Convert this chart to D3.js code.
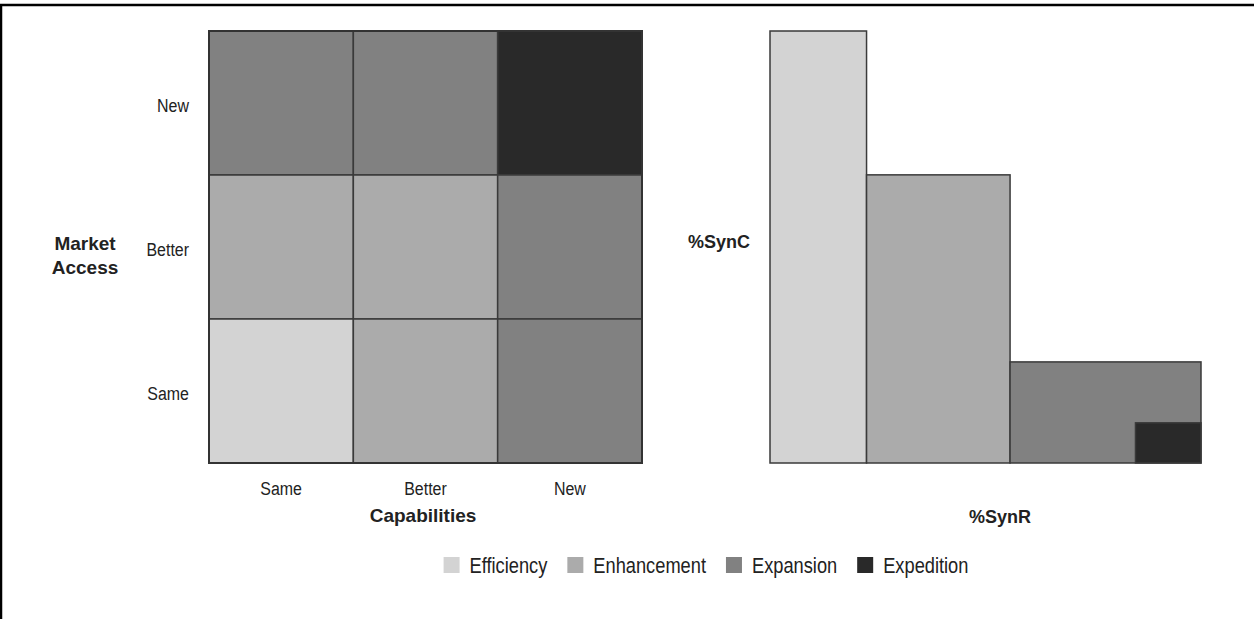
<!DOCTYPE html>
<html>
<head>
<meta charset="utf-8">
<script src="https://cdn.jsdelivr.net/npm/d3@7"></script>
<style>
  html, body { margin: 0; padding: 0; background: #fff; }
  svg { display: block; font-family: "Liberation Sans", Arial, sans-serif; }
</style>
</head>
<body>
<svg id="chart" width="1254" height="619"></svg>
<script>
// ---- data ----
const capabilities = ["Same", "Better", "New"];          // x categories of the matrix
const marketAccess = ["New", "Better", "Same"];          // y categories (top to bottom)
// matrix rows (market access New / Better / Same), columns (capabilities Same / Better / New)
const rowNew    = ["Expansion",   "Expansion",   "Expedition"];
const rowBetter = ["Enhancement", "Enhancement", "Expansion"];
const rowSame   = ["Efficiency",  "Enhancement", "Expansion"];

const types = ["Efficiency", "Enhancement", "Expansion", "Expedition"];
const typeColors = ["#d3d3d3", "#ababab", "#818181", "#292929"];

// variable-width bars: %SynR extent (x) and %SynC height (y)
const synRStart = [0, 22.4, 55.7, 84.8];
const synREnd   = [22.4, 55.7, 100, 100];
const synC      = [100, 66.7, 23.4, 9.3];

// ---- drawing ----
const svg = d3.select("#chart");
const color = d3.scaleOrdinal().domain(types).range(typeColors);
const textCol = "#222";
const strokeCol = "#3a3a3a";
const condense = 0.84;   // emulate a condensed face

// frame (top and left edges visible)
svg.append("path").attr("d", "M1,640 L1,5 L1260,5")
  .attr("fill", "none").attr("stroke", "#000").attr("stroke-width", 2.5);

// Matrix
const x = d3.scaleBand().domain(capabilities).range([209, 642]);
const y = d3.scaleBand().domain(marketAccess).range([31, 463]);
const rows = { "New": rowNew, "Better": rowBetter, "Same": rowSame };
const cells = [];
marketAccess.forEach(r => capabilities.forEach((c, i) => cells.push({ r, c, t: rows[r][i] })));

svg.append("g").selectAll("rect").data(cells).join("rect")
  .attr("x", d => x(d.c)).attr("y", d => y(d.r))
  .attr("width", x.bandwidth()).attr("height", y.bandwidth())
  .attr("fill", d => color(d.t))
  .attr("stroke", strokeCol).attr("stroke-width", 1.5);
svg.append("rect").attr("x", 209).attr("y", 31).attr("width", 433).attr("height", 432)
  .attr("fill", "none").attr("stroke", "#333").attr("stroke-width", 2);

// x tick labels
svg.append("g").selectAll("text").data(capabilities).join("text")
  .attr("transform", d => `translate(${x(d) + x.bandwidth() / 2},495) scale(${condense},1)`)
  .attr("text-anchor", "middle").attr("font-size", 19).attr("fill", textCol)
  .text(d => d);
// y tick labels
svg.append("g").selectAll("text").data(marketAccess).join("text")
  .attr("transform", d => `translate(189,${y(d) + y.bandwidth() / 2 + 9}) scale(${condense},1)`)
  .attr("text-anchor", "end").attr("font-size", 19).attr("fill", textCol)
  .text(d => d);

svg.append("text").attr("x", 423).attr("y", 522).attr("text-anchor", "middle")
  .attr("font-size", 19).attr("font-weight", "bold").attr("fill", textCol).text("Capabilities");
const ma = svg.append("text").attr("text-anchor", "middle")
  .attr("font-size", 19).attr("font-weight", "bold").attr("fill", textCol);
ma.append("tspan").attr("x", 85).attr("y", 250).text("Market");
ma.append("tspan").attr("x", 85).attr("y", 274).text("Access");

// Right chart
const xr = d3.scaleLinear().domain([0, 100]).range([770, 1201]);
const yr = d3.scaleLinear().domain([0, 100]).range([463, 31]);
svg.append("g").selectAll("rect").data(types).join("rect")
  .attr("x", (d, i) => xr(synRStart[i]))
  .attr("y", (d, i) => yr(synC[i]))
  .attr("width", (d, i) => xr(synREnd[i]) - xr(synRStart[i]))
  .attr("height", (d, i) => yr(0) - yr(synC[i]))
  .attr("fill", d => color(d))
  .attr("stroke", strokeCol).attr("stroke-width", 1.5);

svg.append("text").attr("x", 750).attr("y", 248).attr("text-anchor", "end")
  .attr("font-size", 18).attr("font-weight", "bold").attr("fill", textCol).text("%SynC");
svg.append("text").attr("x", 1000).attr("y", 523).attr("text-anchor", "middle")
  .attr("font-size", 18).attr("font-weight", "bold").attr("fill", textCol).text("%SynR");

// Legend
const legend = svg.append("g");
const items = legend.selectAll("g").data(types).join("g");
items.append("rect").attr("width", 16).attr("height", 16).attr("y", -16)
  .attr("fill", d => color(d));
items.append("text").attr("transform", `translate(26,0) scale(0.83,1)`).attr("font-size", 22)
  .attr("fill", textCol).text(d => d);
let cx = 0;
const gap = 20;
items.each(function () {
  const g = d3.select(this);
  g.attr("transform", `translate(${cx},0)`);
  cx += 26 + g.select("text").node().getComputedTextLength() * 0.83 + gap;
});
const totalW = cx - gap;
legend.attr("transform", `translate(${706 - totalW / 2},573)`);
</script>
</body>
</html>
